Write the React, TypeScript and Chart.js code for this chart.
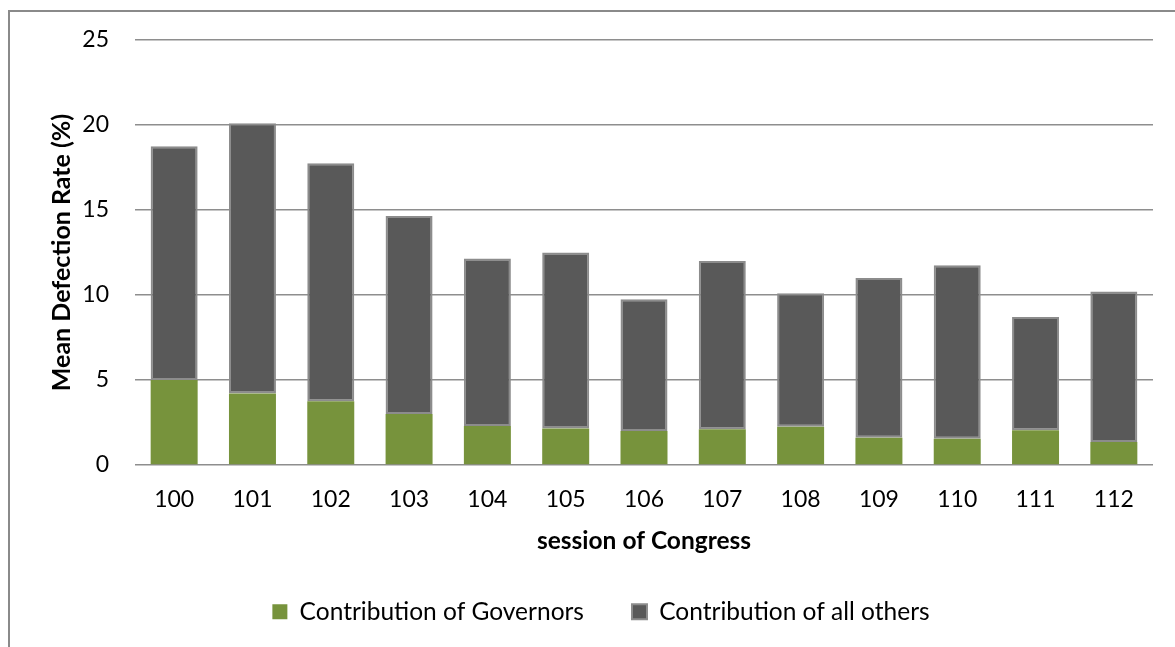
import { useEffect, useRef } from "react";
import { Chart, registerables } from "chart.js";

Chart.register(...registerables);

// Congress sessions on the x axis
const sessions = ["100", "101", "102", "103", "104", "105", "106", "107", "108", "109", "110", "111", "112"];

// Mean defection rate (%) split into two stacked contributions
const governors = [5.0, 4.2, 3.75, 3.0, 2.3, 2.15, 2.0, 2.1, 2.25, 1.6, 1.55, 2.05, 1.35];
const allOthers = [13.75, 15.9, 14.0, 11.65, 9.85, 10.35, 7.75, 9.9, 7.85, 9.4, 10.2, 6.65, 8.85];

const seriesNames = ["Contribution of Governors", "Contribution of all others"];
const yTicks = [0, 5, 10, 15, 20, 25];

const FONT = "Lato, 'Open Sans', sans-serif";
const LEGEND_HEIGHT = 95.5;

// Keeps the bottom legend to a fixed band height so the wide item spacing
// does not push the plot area upward.
const legendBandPlugin = {
  id: "legendBand",
  beforeLayout(chart: any) {
    const lg = chart.legend;
    if (lg && !lg.__banded) {
      const fit = lg.fit.bind(lg);
      lg.fit = () => {
        fit();
        lg.height = LEGEND_HEIGHT;
      };
      lg.__banded = true;
    }
  },
};

export default function App() {
  const canvasRef = useRef<HTMLCanvasElement | null>(null);

  useEffect(() => {
    const canvas = canvasRef.current;
    if (!canvas) return;
    const chart = new Chart(canvas, {
      type: "bar",
      data: {
        labels: sessions,
        datasets: [
          {
            label: seriesNames[0],
            data: governors,
            backgroundColor: "#77933c",
            borderWidth: 0,
            barPercentage: 0.6,
            categoryPercentage: 1,
          },
          {
            label: seriesNames[1],
            data: allOthers,
            backgroundColor: "#595959",
            borderColor: "#8c8c8c",
            borderWidth: 2,
            borderSkipped: false,
            barPercentage: 0.6,
            categoryPercentage: 1,
          },
        ],
      },
      plugins: [legendBandPlugin],
      options: {
        animation: false,
        responsive: false,
        maintainAspectRatio: false,
        layout: { padding: { left: 49, right: 22, top: 40, bottom: 0 } },
        plugins: {
          tooltip: { enabled: false },
          legend: {
            position: "bottom",
            labels: {
              boxWidth: 15,
              boxHeight: 15,
              padding: 48,
              color: "#000",
              font: { family: FONT, size: 24.5 },
            },
          },
        },
        scales: {
          x: {
            stacked: true,
            grid: { display: false, drawTicks: false },
            border: { display: false },
            ticks: {
              color: "#000",
              padding: 21,
              font: { family: FONT, size: 23 },
              maxRotation: 0,
            },
            title: {
              display: true,
              text: "session of Congress",
              color: "#000",
              font: { family: FONT, size: 24.5, weight: "bold", lineHeight: 1.0 },
              padding: { top: 0, bottom: -2 },
            },
            afterFit(scale: any) {
              scale.height = 86.5;
            },
          },
          y: {
            stacked: true,
            min: 0,
            max: 25,
            afterBuildTicks(scale: any) {
              scale.ticks = yTicks.map((v) => ({ value: v }));
            },
            grid: { color: "#8e8e8e", lineWidth: 1.6, drawTicks: false },
            border: { display: false },
            ticks: {
              color: "#000",
              padding: 26,
              font: { family: FONT, size: 23 },
            },
            title: {
              display: true,
              text: "Mean Defection Rate (%)",
              color: "#000",
              font: { family: FONT, size: 25, weight: "bold", lineHeight: 1.0 },
              padding: { top: 0, bottom: 0 },
            },
            afterFit(scale: any) {
              scale.width = 86;
            },
          },
        },
      },
    });
    return () => chart.destroy();
  }, []);

  return (
    <div
      style={{
        position: "fixed",
        left: 0,
        top: 0,
        width: 1175,
        height: 647,
        overflow: "hidden",
        background: "#fff",
      }}
    >
      <div
        style={{
          position: "absolute",
          left: 8,
          top: 10,
          width: 1300,
          height: 800,
          border: "2px solid #8a8a8a",
        }}
      />
      <canvas
        ref={canvasRef}
        width={1175}
        height={647}
        style={{ position: "absolute", left: 0, top: 0, width: 1175, height: 647 }}
      />
    </div>
  );
}
